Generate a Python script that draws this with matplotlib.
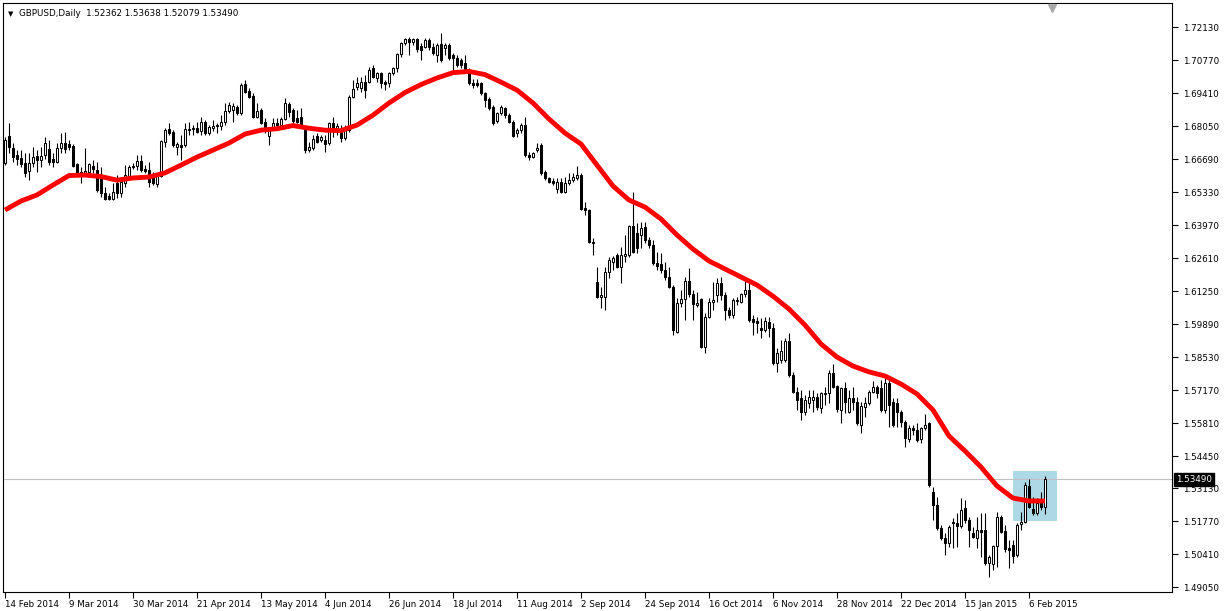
import matplotlib
matplotlib.use("Agg")
import matplotlib.pyplot as plt
from matplotlib.patches import Rectangle
from matplotlib.transforms import blended_transform_factory

# ---------------- data ----------------
symbol_title = "GBPUSD,Daily"
last_ohlc_text = "1.52362 1.53638 1.52079 1.53490"
last_price = 1.53490

opens = [
    1.6653, 1.6763, 1.6714, 1.6685, 1.6673, 1.6653, 1.6620, 1.6653, 1.6681, 1.6665,
    1.6685, 1.6710, 1.6669, 1.6657, 1.6714, 1.6735, 1.6731, 1.6722, 1.6649, 1.6616,
    1.6612, 1.6616, 1.6640, 1.6624, 1.6595, 1.6529, 1.6516, 1.6504, 1.6570, 1.6529,
    1.6570, 1.6599, 1.6636, 1.6640, 1.6661, 1.6628, 1.6624, 1.6603, 1.6566, 1.6599,
    1.6739, 1.6792, 1.6780, 1.6718, 1.6727, 1.6727, 1.6792, 1.6792, 1.6796, 1.6784,
    1.6821, 1.6776, 1.6796, 1.6809, 1.6805, 1.6821, 1.6867, 1.6871, 1.6883, 1.6858,
    1.6978, 1.6949, 1.6928, 1.6842, 1.6871, 1.6821, 1.6763, 1.6796, 1.6818, 1.6809,
    1.6834, 1.6896, 1.6871, 1.6838, 1.6842, 1.6788, 1.6706, 1.6714, 1.6763, 1.6747,
    1.6747, 1.6735, 1.6818, 1.6780, 1.6780, 1.6755, 1.6788, 1.6924, 1.6966, 1.6961,
    1.6986, 1.6986, 1.7044, 1.7003, 1.7023, 1.6986, 1.6982, 1.7023, 1.7044, 1.7101,
    1.7147, 1.7163, 1.7151, 1.7163, 1.7134, 1.7130, 1.7159, 1.7130, 1.7097, 1.7143,
    1.7126, 1.7138, 1.7097, 1.7085, 1.7077, 1.7064, 1.7036, 1.6982, 1.6982, 1.6982,
    1.6941, 1.6916, 1.6883, 1.6825, 1.6858, 1.6879, 1.6850, 1.6821, 1.6776, 1.6788,
    1.6809, 1.6685, 1.6677, 1.6706, 1.6727, 1.6616, 1.6591, 1.6578, 1.6545, 1.6574,
    1.6533, 1.6570, 1.6582, 1.6591, 1.6603, 1.6467, 1.6459, 1.6327, 1.6162, 1.6100,
    1.6100, 1.6204, 1.6245, 1.6273, 1.6224, 1.6269, 1.6273, 1.6393, 1.6364, 1.6356,
    1.6389, 1.6335, 1.6314, 1.6241, 1.6236, 1.6212, 1.6183, 1.6141, 1.5956, 1.6076,
    1.6092, 1.6166, 1.6113, 1.6067, 1.6092, 1.5894, 1.6018, 1.6080, 1.6108, 1.6158,
    1.6108, 1.6047, 1.6026, 1.6084, 1.6080, 1.6113, 1.6129, 1.6010, 1.6002, 1.5973,
    1.5964, 1.5997, 1.5973, 1.5828, 1.5841, 1.5841, 1.5919, 1.5779, 1.5709, 1.5684,
    1.5627, 1.5664, 1.5676, 1.5688, 1.5643, 1.5701, 1.5705, 1.5787, 1.5733, 1.5635,
    1.5725, 1.5627, 1.5684, 1.5668, 1.5573, 1.5647, 1.5664, 1.5709, 1.5729, 1.5725,
    1.5635, 1.5746, 1.5668, 1.5664, 1.5627, 1.5586, 1.5515, 1.5561, 1.5552, 1.5515,
    1.5561, 1.5581, 1.5297, 1.5243, 1.5149, 1.5107, 1.5087, 1.5173, 1.5169, 1.5157,
    1.5231, 1.5182, 1.5128, 1.5107, 1.5140, 1.5140, 1.5004, 1.5000, 1.5074, 1.5194,
    1.5136, 1.5066, 1.5078, 1.5037, 1.5165, 1.5173, 1.5322, 1.5227, 1.5210, 1.5252,
    1.52362,
]
highs = [
    1.6759, 1.6818, 1.6735, 1.6706, 1.6706, 1.6694, 1.6694, 1.6718, 1.6706, 1.6718,
    1.6759, 1.6747, 1.6694, 1.6735, 1.6776, 1.6780, 1.6747, 1.6731, 1.6653, 1.6636,
    1.6714, 1.6653, 1.6665, 1.6657, 1.6636, 1.6553, 1.6529, 1.6570, 1.6603, 1.6591,
    1.6644, 1.6644, 1.6653, 1.6685, 1.6685, 1.6644, 1.6657, 1.6616, 1.6603, 1.6747,
    1.6796, 1.6818, 1.6788, 1.6739, 1.6768, 1.6818, 1.6821, 1.6809, 1.6821, 1.6842,
    1.6830, 1.6809, 1.6830, 1.6818, 1.6850, 1.6900, 1.6904, 1.6900, 1.6892, 1.6982,
    1.6994, 1.6961, 1.6941, 1.6900, 1.6879, 1.6838, 1.6800, 1.6838, 1.6838, 1.6842,
    1.6920, 1.6904, 1.6879, 1.6871, 1.6879, 1.6796, 1.6739, 1.6768, 1.6776, 1.6768,
    1.6768, 1.6821, 1.6842, 1.6818, 1.6809, 1.6809, 1.6933, 1.6994, 1.7007, 1.7007,
    1.7015, 1.7048, 1.7056, 1.7027, 1.7027, 1.6994, 1.7027, 1.7048, 1.7106, 1.7151,
    1.7167, 1.7171, 1.7167, 1.7167, 1.7147, 1.7167, 1.7167, 1.7147, 1.7147, 1.7188,
    1.7147, 1.7147, 1.7106, 1.7097, 1.7085, 1.7097, 1.7044, 1.6999, 1.6999, 1.6986,
    1.6945, 1.6924, 1.6892, 1.6863, 1.6892, 1.6883, 1.6858, 1.6830, 1.6796, 1.6818,
    1.6842, 1.6698, 1.6698, 1.6735, 1.6735, 1.6624, 1.6595, 1.6591, 1.6591, 1.6591,
    1.6595, 1.6612, 1.6612, 1.6640, 1.6612, 1.6492, 1.6463, 1.6343, 1.6224, 1.6141,
    1.6224, 1.6265, 1.6269, 1.6282, 1.6306, 1.6356, 1.6397, 1.6533, 1.6405, 1.6409,
    1.6409, 1.6347, 1.6335, 1.6286, 1.6282, 1.6245, 1.6224, 1.6150, 1.6096, 1.6129,
    1.6183, 1.6220, 1.6129, 1.6121, 1.6096, 1.6035, 1.6096, 1.6162, 1.6179, 1.6183,
    1.6121, 1.6059, 1.6096, 1.6100, 1.6117, 1.6170, 1.6170, 1.6026, 1.6018, 1.6014,
    1.6018, 1.6018, 1.5993, 1.5890, 1.5923, 1.5931, 1.5952, 1.5792, 1.5729, 1.5717,
    1.5697, 1.5717, 1.5717, 1.5705, 1.5709, 1.5729, 1.5800, 1.5824, 1.5738, 1.5729,
    1.5750, 1.5717, 1.5729, 1.5688, 1.5668, 1.5688, 1.5717, 1.5754, 1.5738, 1.5758,
    1.5766, 1.5758, 1.5684, 1.5684, 1.5635, 1.5594, 1.5573, 1.5573, 1.5581, 1.5565,
    1.5618, 1.5586, 1.5318, 1.5276, 1.5161, 1.5128, 1.5161, 1.5190, 1.5210, 1.5272,
    1.5264, 1.5194, 1.5153, 1.5194, 1.5210, 1.5210, 1.5037, 1.5078, 1.5215, 1.5202,
    1.5161, 1.5099, 1.5099, 1.5169, 1.5215, 1.5338, 1.5350, 1.5276, 1.5272, 1.5297,
    1.53638,
]
lows = [
    1.6644, 1.6694, 1.6657, 1.6644, 1.6636, 1.6595, 1.6582, 1.6636, 1.6616, 1.6636,
    1.6669, 1.6644, 1.6636, 1.6653, 1.6694, 1.6694, 1.6706, 1.6636, 1.6603, 1.6570,
    1.6603, 1.6612, 1.6612, 1.6533, 1.6512, 1.6500, 1.6500, 1.6500, 1.6508, 1.6512,
    1.6553, 1.6591, 1.6628, 1.6624, 1.6616, 1.6612, 1.6553, 1.6562, 1.6553, 1.6595,
    1.6718, 1.6768, 1.6718, 1.6685, 1.6665, 1.6718, 1.6768, 1.6768, 1.6776, 1.6768,
    1.6768, 1.6768, 1.6784, 1.6776, 1.6788, 1.6809, 1.6858, 1.6821, 1.6850, 1.6850,
    1.6941, 1.6920, 1.6838, 1.6838, 1.6813, 1.6776, 1.6727, 1.6788, 1.6800, 1.6796,
    1.6830, 1.6842, 1.6818, 1.6818, 1.6800, 1.6694, 1.6698, 1.6706, 1.6735, 1.6739,
    1.6698, 1.6727, 1.6759, 1.6768, 1.6739, 1.6747, 1.6780, 1.6920, 1.6953, 1.6945,
    1.6920, 1.6982, 1.7003, 1.6986, 1.6961, 1.6953, 1.6966, 1.7015, 1.7027, 1.7089,
    1.7138, 1.7097, 1.7138, 1.7110, 1.7077, 1.7126, 1.7118, 1.7097, 1.7069, 1.7069,
    1.7097, 1.7077, 1.7027, 1.7048, 1.7044, 1.7036, 1.6974, 1.6961, 1.6966, 1.6933,
    1.6883, 1.6871, 1.6809, 1.6818, 1.6850, 1.6838, 1.6818, 1.6759, 1.6759, 1.6776,
    1.6677, 1.6665, 1.6673, 1.6698, 1.6603, 1.6582, 1.6570, 1.6562, 1.6529, 1.6529,
    1.6529, 1.6562, 1.6574, 1.6582, 1.6459, 1.6438, 1.6323, 1.6274, 1.6096, 1.6055,
    1.6047, 1.6179, 1.6212, 1.6220, 1.6158, 1.6245, 1.6265, 1.6282, 1.6282, 1.6302,
    1.6323, 1.6302, 1.6232, 1.6212, 1.6199, 1.6170, 1.6137, 1.5943, 1.5951, 1.6059,
    1.6006, 1.6100, 1.6006, 1.6059, 1.5890, 1.5870, 1.6014, 1.6047, 1.6080, 1.6088,
    1.6006, 1.6014, 1.6014, 1.6067, 1.6076, 1.6100, 1.5997, 1.5943, 1.5951, 1.5931,
    1.5956, 1.5935, 1.5820, 1.5792, 1.5828, 1.5833, 1.5770, 1.5705, 1.5635, 1.5594,
    1.5614, 1.5643, 1.5627, 1.5635, 1.5623, 1.5656, 1.5664, 1.5725, 1.5627, 1.5581,
    1.5623, 1.5623, 1.5635, 1.5573, 1.5540, 1.5606, 1.5656, 1.5705, 1.5684, 1.5627,
    1.5623, 1.5565, 1.5565, 1.5565, 1.5565, 1.5482, 1.5503, 1.5532, 1.5503, 1.5499,
    1.5552, 1.5318, 1.5182, 1.5140, 1.5099, 1.5037, 1.5070, 1.5066, 1.5070, 1.5149,
    1.5169, 1.5070, 1.5107, 1.5066, 1.5029, 1.4996, 1.4946, 1.4976, 1.4988, 1.5128,
    1.5050, 1.4984, 1.5004, 1.5029, 1.5140, 1.5169, 1.5231, 1.5202, 1.5202, 1.5223,
    1.52079,
]
closes = [
    1.6747, 1.6718, 1.6677, 1.6669, 1.6649, 1.6612, 1.6653, 1.6677, 1.6665, 1.6681,
    1.6735, 1.6657, 1.6657, 1.6714, 1.6735, 1.6710, 1.6718, 1.6640, 1.6612, 1.6612,
    1.6620, 1.6649, 1.6628, 1.6541, 1.6529, 1.6504, 1.6504, 1.6533, 1.6529, 1.6574,
    1.6603, 1.6636, 1.6640, 1.6661, 1.6624, 1.6620, 1.6574, 1.6570, 1.6599, 1.6743,
    1.6788, 1.6776, 1.6727, 1.6731, 1.6718, 1.6792, 1.6788, 1.6796, 1.6780, 1.6821,
    1.6776, 1.6800, 1.6805, 1.6805, 1.6821, 1.6867, 1.6892, 1.6887, 1.6858, 1.6974,
    1.6945, 1.6924, 1.6842, 1.6867, 1.6818, 1.6796, 1.6796, 1.6818, 1.6809, 1.6834,
    1.6900, 1.6863, 1.6825, 1.6821, 1.6809, 1.6706, 1.6718, 1.6751, 1.6739, 1.6759,
    1.6731, 1.6818, 1.6788, 1.6805, 1.6755, 1.6788, 1.6924, 1.6957, 1.6982, 1.6986,
    1.6953, 1.7036, 1.7007, 1.7023, 1.6982, 1.6978, 1.7023, 1.7044, 1.7101, 1.7147,
    1.7163, 1.7151, 1.7163, 1.7122, 1.7118, 1.7159, 1.7130, 1.7106, 1.7138, 1.7077,
    1.7138, 1.7085, 1.7085, 1.7056, 1.7056, 1.7040, 1.6982, 1.6974, 1.6974, 1.6941,
    1.6912, 1.6879, 1.6818, 1.6858, 1.6883, 1.6850, 1.6821, 1.6763, 1.6788, 1.6809,
    1.6685, 1.6677, 1.6694, 1.6714, 1.6612, 1.6591, 1.6574, 1.6570, 1.6574, 1.6533,
    1.6570, 1.6582, 1.6595, 1.6603, 1.6463, 1.6459, 1.6327, 1.6323, 1.6100, 1.6108,
    1.6204, 1.6253, 1.6261, 1.6224, 1.6273, 1.6278, 1.6393, 1.6286, 1.6302, 1.6385,
    1.6335, 1.6314, 1.6241, 1.6228, 1.6212, 1.6183, 1.6141, 1.5964, 1.6076, 1.6092,
    1.6166, 1.6113, 1.6072, 1.6076, 1.5894, 1.6018, 1.6080, 1.6088, 1.6158, 1.6108,
    1.6047, 1.6026, 1.6088, 1.6088, 1.6113, 1.6129, 1.6006, 1.5997, 1.5993, 1.5964,
    1.6002, 1.5973, 1.5828, 1.5870, 1.5878, 1.5919, 1.5779, 1.5709, 1.5676, 1.5627,
    1.5676, 1.5688, 1.5688, 1.5647, 1.5705, 1.5705, 1.5787, 1.5729, 1.5639, 1.5725,
    1.5668, 1.5684, 1.5668, 1.5581, 1.5651, 1.5664, 1.5709, 1.5729, 1.5705, 1.5635,
    1.5746, 1.5656, 1.5573, 1.5627, 1.5586, 1.5519, 1.5561, 1.5552, 1.5511, 1.5561,
    1.5573, 1.5326, 1.5243, 1.5149, 1.5107, 1.5087, 1.5153, 1.5169, 1.5157, 1.5223,
    1.5182, 1.5140, 1.5112, 1.5140, 1.5132, 1.5004, 1.5029, 1.5074, 1.5194, 1.5132,
    1.5062, 1.5058, 1.5033, 1.5161, 1.5173, 1.5326, 1.5235, 1.5210, 1.5252, 1.5235,
    1.53490,
]

# moving average read every 4 bars
ma_bars = list(range(0, 261, 4))
ma_values = [
    1.6459, 1.6496, 1.6521, 1.6562, 1.6601, 1.6603, 1.6597, 1.6582, 1.6591, 1.6595,
    1.6612, 1.6644, 1.6677, 1.6706, 1.6735, 1.6772, 1.6788, 1.6794, 1.6807, 1.6796,
    1.6788, 1.6786, 1.6809, 1.6850, 1.6900, 1.6943, 1.6976, 1.7003, 1.7025, 1.7030,
    1.7017, 1.6986, 1.6953, 1.6900, 1.6834, 1.6776, 1.6731, 1.6644, 1.6558, 1.6500,
    1.6471, 1.6422, 1.6356, 1.6298, 1.6249, 1.6216, 1.6183, 1.6150, 1.6104, 1.6051,
    1.5985, 1.5907, 1.5853, 1.5816, 1.5792, 1.5775, 1.5742, 1.5701, 1.5635, 1.5528,
    1.5466, 1.5400, 1.5322, 1.5272, 1.5260, 1.5260,
]

date_labels = ["14 Feb 2014", "9 Mar 2014", "30 Mar 2014", "21 Apr 2014", "13 May 2014",
               "4 Jun 2014", "26 Jun 2014", "18 Jul 2014", "11 Aug 2014", "2 Sep 2014",
               "24 Sep 2014", "16 Oct 2014", "6 Nov 2014", "28 Nov 2014", "22 Dec 2014",
               "15 Jan 2015", "6 Feb 2015"]
date_label_bars = list(range(0, 257, 16))

price_ticks = [1.72130, 1.70770, 1.69410, 1.68050, 1.66690, 1.65330, 1.63970, 1.62610,
               1.61250, 1.59890, 1.58530, 1.57170, 1.55810, 1.54450, 1.53130, 1.51770,
               1.50410, 1.49050]

highlight_bars = (252, 263)
highlight_prices = (1.51775, 1.53835)

# ---------------- figure ----------------
W, H = 1230, 611
fig = plt.figure(figsize=(W / 100, H / 100), dpi=100)
fig.patch.set_facecolor("white")
ax = fig.add_axes([3 / W, 19 / H, 1169 / W, 589 / H])
ax.set_facecolor("white")
ax.set_xlim(-0.5, 291.75)
ax.set_ylim(1.4885, 1.7312)

FONT = "DejaVu Sans"
FS = 6.3

# highlight box
ax.add_patch(Rectangle((highlight_bars[0], highlight_prices[0]),
                       highlight_bars[1] - highlight_bars[0],
                       highlight_prices[1] - highlight_prices[0],
                       facecolor="#add8e6", edgecolor="none", zorder=1))

# current price line
ax.axhline(last_price, color="#c0c0c0", lw=0.8, zorder=1.5)

# candles
xs = list(range(len(closes)))
ax.vlines(xs, lows, highs, color="black", lw=0.8, zorder=2)
for i in xs:
    o, c = opens[i], closes[i]
    bottom = min(o, c)
    height = max(abs(c - o), 0.00004)
    face = "white" if c >= o else "black"
    ax.bar(i, height, bottom=bottom, width=0.55, facecolor=face,
           edgecolor="black", linewidth=0.75, zorder=3)

# moving average
ax.plot(ma_bars, ma_values, color="#ff0000", lw=3.5, solid_capstyle="butt",
        solid_joinstyle="round", zorder=4)

# axes styling
for s in ax.spines.values():
    s.set_color("black")
    s.set_linewidth(0.8)
ax.yaxis.tick_right()
ax.set_yticks(price_ticks)
ax.set_yticklabels([f"{p:.5f}" for p in price_ticks], fontsize=FS, family=FONT)
ax.tick_params(axis="y", direction="out", length=4, width=0.8, pad=4, colors="black")
ax.set_xticks(date_label_bars)
ax.set_xticklabels(date_labels, fontsize=FS, family=FONT, ha="left")
ax.tick_params(axis="x", direction="out", length=4, width=0.8, pad=2, colors="black")
for lbl in ax.get_xticklabels():
    lbl.set_horizontalalignment("left")

# current price box on right axis
trans = blended_transform_factory(ax.transAxes, ax.transData)
ax.text(1.0035, last_price, f"{last_price:.5f}", transform=trans, fontsize=FS,
        family=FONT, color="white", va="center", ha="left", zorder=10,
        bbox=dict(boxstyle="square,pad=0.22", facecolor="black", edgecolor="black"),
        clip_on=False)

# header
fig.text(8 / W, 1 - 14 / H, "\u25BC", fontsize=5, family=FONT, color="black", va="center")
fig.text(19 / W, 1 - 14 / H, f"{symbol_title}  {last_ohlc_text}", fontsize=FS,
         family=FONT, color="black", va="center")

# chart shift marker
ax.plot([261.75], [0.992], marker="v", markersize=6, color="#a9a9a9",
        transform=blended_transform_factory(ax.transData, ax.transAxes),
        clip_on=False, zorder=5)

fig.savefig("out.png", dpi=100, facecolor="white")
